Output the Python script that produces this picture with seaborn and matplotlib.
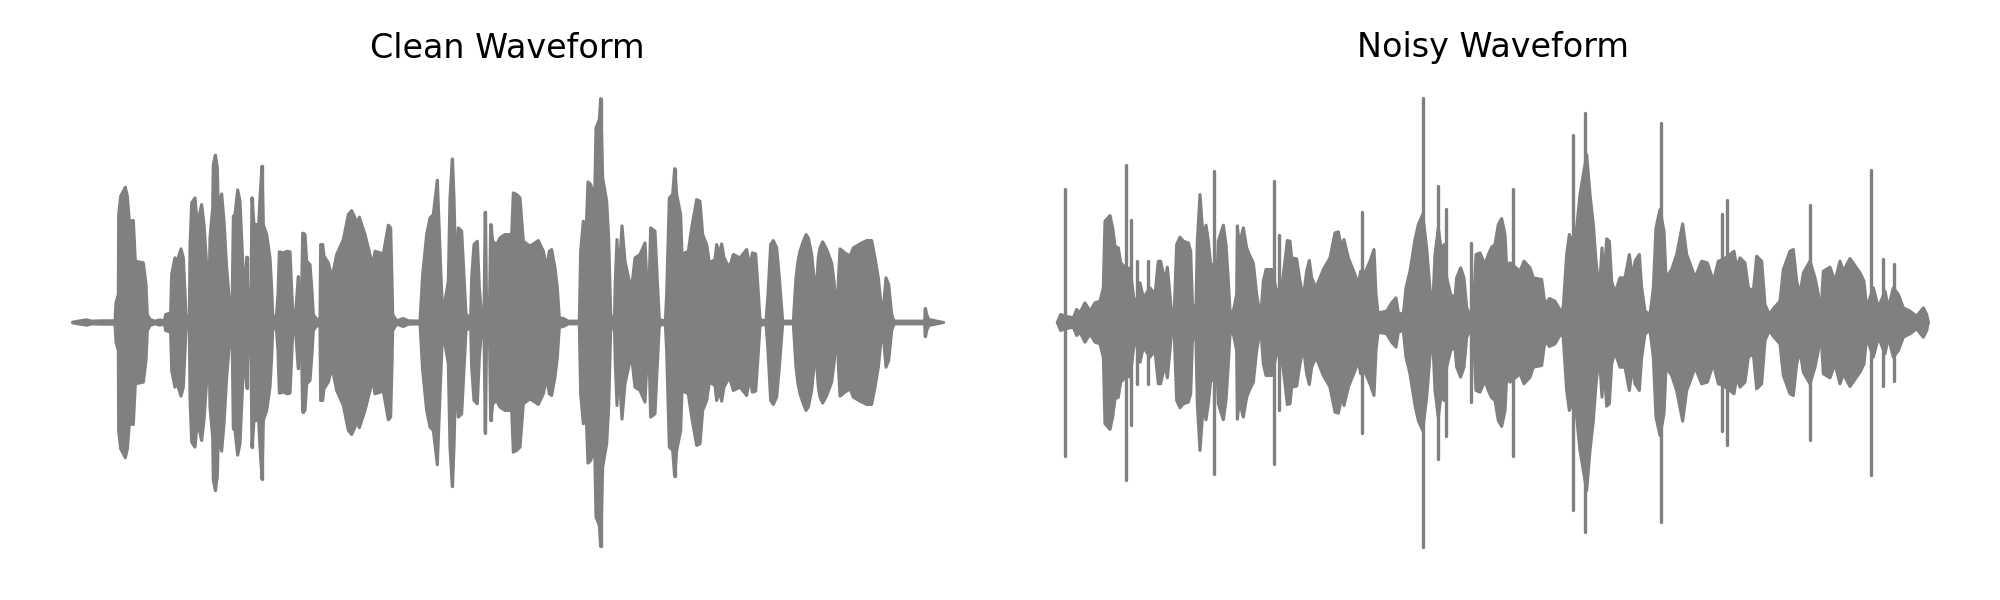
# waveform envelopes: (time, amplitude)
import numpy as np
import pandas as pd
import seaborn as sns
import matplotlib.pyplot as plt

clean_env_a = [(68,1),(85,4),(110,8),(125,4),(150,5),(195,5),(198,59),(205,84),(206,324),(212,379),(226,406),(232,379),(238,304),(250,306),(256,184),(280,179),(288,114),(292,24),(300,9),(315,4),(330,8),(343,4),(347,24),(362,29),(365,144),(375,194),(380,179),(393,221),(400,194),(405,84),(408,24),(412,5),(418,9),(420,224),(425,359),(435,374),(442,294),(455,354),(462,294),(470,174),(473,84),(476,9),(480,254),(488,344),(490,474),(496,502),(502,464),(505,334),(515,386),(522,304),(530,164),(540,44),(546,12),(550,319),(555,324),(563,398),(570,364),(578,184),(584,64),(590,196),(596,24),(602,9),(606,374),(612,294),(626,294),(630,374),(636,469),(640,294),(650,264),(660,194),(665,104),(668,24),(678,5),(684,84),(688,212),(700,209),(712,214),(720,212),(728,34),(735,5),(741,84),(745,138),(750,24),(755,104),(758,268),(765,264),(770,184),(780,174),(786,94),(790,24),(800,9),(810,12),(812,234),(818,234),(822,199),(835,179),(846,134),(860,204),(880,249),(895,324),(905,336),(915,314),(920,294),(928,316),(945,264),(960,204),(968,169),(975,214),(1000,206),(1015,292),(1022,284),(1026,124),(1028,24),(1040,5),(1060,12),(1075,5),(1110,4),(1118,144),(1130,264),(1140,314),(1150,324),(1162,427),(1172,164),(1178,24),(1195,124),(1200,374),(1207,491),(1212,374),(1218,124),(1225,284),(1235,274),(1248,24),(1262,14),(1265,134),(1272,234),(1282,244),(1288,104),(1296,9),(1302,24),(1306,331),(1310,24),(1318,9),(1322,294),(1328,244),(1340,234),(1350,254),(1365,264),(1385,264),(1390,389),(1400,384),(1410,374)]
clean_env_b = [(1420,244),(1440,229),(1465,246),(1480,214),(1490,164),(1498,214),(1505,219),(1515,164),(1522,104),(1528,14),(1540,12),(1555,4),(1588,4),(1592,214),(1600,304),(1608,264),(1614,422),(1622,414),(1634,374),(1638,584),(1648,609),(1652,672),(1658,434),(1670,364),(1676,254),(1682,24),(1693,4),(1696,124),(1701,249),(1706,124),(1716,290),(1725,184),(1738,124),(1745,104),(1755,194),(1770,204),(1785,239),(1790,134),(1798,134),(1802,284),(1815,274),(1822,124),(1828,9),(1846,4),(1850,84),(1858,374),(1868,384),(1874,462),(1880,384),(1892,324),(1896,204),(1915,214),(1925,284),(1940,369),(1950,364),(1958,264),(1970,234),(1978,179),(1995,189),(2000,234),(2007,204),(2015,236),(2022,194),(2038,164),(2050,204),(2070,194),(2090,219),(2100,164),(2107,209),(2117,206),(2124,104),(2130,9),(2148,4),(2154,84),(2162,234),(2170,246),(2180,224),(2188,134),(2195,44),(2198,4),(2230,4),(2238,134),(2244,184),(2250,214),(2260,244),(2268,264),(2275,254),(2285,204),(2292,134),(2298,94),(2305,194),(2310,224),(2318,242),(2330,219),(2345,179),(2352,124),(2357,64),(2360,4),(2365,124),(2370,221),(2385,209),(2400,199),(2410,224),(2430,236),(2450,246),(2465,246),(2475,194),(2485,134),(2492,64),(2495,24),(2502,64),(2508,134),(2516,114),(2525,24),(2532,4),(2620,4),(2624,4),(2626,42),(2630,24),(2636,9),(2660,4),(2680,0)]
clean_spikes = [(496,502),(590,196),(606,374),(636,469),(745,138),(758,268),(812,234),(1207,491),(1306,331),(1322,294),(1652,672),(1874,462),(2626,42)]

noisy_env_a = [(52,0),(62,24),(75,19),(100,14),(110,39),(120,29),(135,59),(150,34),(165,59),(180,64),(190,104),(195,304),(210,321),(218,284),(225,229),(235,224),(242,179),(262,159),(270,164),(280,84),(286,44),(292,74),(300,119),(310,74),(330,104),(345,84),(355,184),(362,184),(375,124),(382,166),(388,104),(395,24),(402,12),(410,234),(420,256),(430,244),(445,239),(452,214),(458,34),(468,54),(472,244),(480,384),(490,244),(498,292),(505,244),(512,174),(520,174),(527,29),(535,244),(550,292),(558,234),(565,124),(570,34),(580,34),(590,84),(592,290),(598,234),(610,284),(620,224),(630,199),(640,179),(650,84),(662,14),(670,124),(678,159),(695,159),(710,94),(725,104),(735,184),(742,246),(750,244),(755,194),(770,191),(780,124),(790,74),(800,154),(808,186),(815,134),(828,104),(840,134),(850,159),(870,194),(885,269),(895,272),(905,224),(912,249),(925,194),(945,144),(955,114),(962,154),(975,149),(990,184),(1002,219),(1008,84),(1014,29),(1040,34),(1055,59),(1068,74),(1075,29),(1090,24),(1098,104),(1110,154),(1125,249),(1135,294),(1148,324),(1160,224),(1170,99),(1178,44),(1185,204),(1195,284),(1205,204),(1212,234),(1220,134),(1232,84),(1245,74),(1250,134),(1262,164),(1272,134),(1280,44),(1290,24),(1300,34),(1308,204),(1320,209),(1335,174),(1345,204),(1355,226),(1365,234),(1375,294),(1385,312),(1395,264),(1400,164),(1410,179)]
noisy_env_b = [(1440,154),(1452,184),(1470,164),(1480,134),(1505,129),(1515,54),(1528,72),(1545,64),(1565,29),(1570,49),(1580,204),(1588,264),(1595,244),(1610,284),(1620,384),(1630,444),(1640,504),(1650,384),(1660,294),(1668,184),(1678,94),(1686,224),(1692,124),(1700,251),(1708,244),(1715,124),(1725,89),(1740,134),(1755,134),(1768,204),(1778,129),(1785,184),(1798,204),(1805,104),(1815,34),(1830,24),(1840,104),(1848,284),(1860,339),(1872,274),(1878,134),(1895,159),(1910,204),(1928,296),(1940,204),(1955,164),(1965,134),(1985,184),(2002,179),(2020,124),(2035,184),(2050,189),(2070,204),(2082,214),(2090,164),(2100,194),(2115,179),(2125,104),(2140,94),(2150,199),(2165,184),(2175,54),(2188,24),(2202,44),(2220,64),(2230,159),(2250,214),(2260,219),(2270,124),(2280,84),(2290,149),(2310,184),(2325,134),(2335,84),(2342,12),(2350,154),(2370,166),(2385,124),(2400,184),(2410,154),(2430,192),(2460,149),(2472,124),(2480,44),(2500,104),(2515,44),(2535,94),(2545,44),(2560,104),(2575,84),(2590,44),(2610,34),(2630,19),(2650,44),(2660,24),(2665,0)]
noisy_spikes = [(75,402),(257,472),(273,309),(292,184),(325,184),(521,454),(702,424),(718,262),(967,331),(1148,674),(1193,409),(1218,340),(1292,239),(1418,402),(1600,564),(1636,629),(1864,599),(2046,326),(2062,369),(2310,352),(2492,457),(2528,191),(2561,177)]

titles = ["Clean Waveform", "Noisy Waveform"]
line_color = "gray"

sns.set_theme(style="white")
fig = plt.figure(figsize=(2000/150, 600/150), dpi=150)


def draw_wave(ax, env, spikes, title):
    env = pd.DataFrame(env, columns=["t", "amp"])
    spikes = pd.DataFrame(spikes, columns=["t", "amp"])
    ax.fill_between(env.t, -env.amp, env.amp, color=line_color, lw=0)
    # outline gives the rounded edge of the thick trace
    sns.lineplot(x=env.t, y=env.amp, ax=ax, color=line_color, lw=1.5, estimator=None, sort=False)
    sns.lineplot(x=env.t, y=-env.amp, ax=ax, color=line_color, lw=1.5, estimator=None, sort=False)
    ax.vlines(spikes.t, -spikes.amp, spikes.amp, color=line_color, lw=1.6, capstyle="round")
    ax.set_ylim(-788, 788)
    ax.set_title(title, fontsize=16, pad=1.2, color="black")
    ax.axis("off")


ax1 = fig.add_axes([40/2000, 15/600, 935/2000, 525/600])
draw_wave(ax1, clean_env_a + clean_env_b, clean_spikes, titles[0])
ax1.set_xlim(-30, 2775)

ax2 = fig.add_axes([1030/2000, 15/600, 926/2000, 525/600])
draw_wave(ax2, noisy_env_a + noisy_env_b, noisy_spikes, titles[1])
ax2.set_xlim(-30, 2748)

fig.savefig("out.png", dpi=150)
